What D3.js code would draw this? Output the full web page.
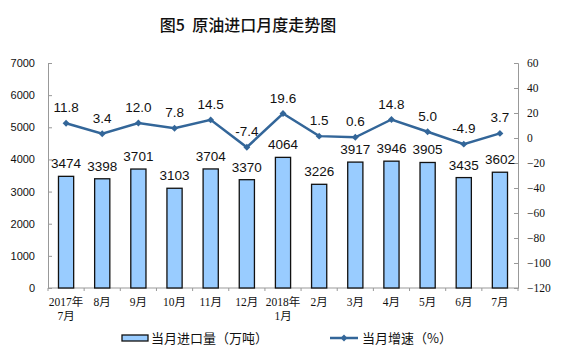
<!DOCTYPE html>
<html><head><meta charset="utf-8">
<script src="https://cdn.jsdelivr.net/npm/d3@7"></script>
<style>body{margin:0;background:#fff}</style>
</head><body>
<script>
const months = [["2017年","7月"],["8月"],["9月"],["10月"],["11月"],["12月"],["2018年","1月"],["2月"],["3月"],["4月"],["5月"],["6月"],["7月"]];
const imports = [3474,3398,3701,3103,3704,3370,4064,3226,3917,3946,3905,3435,3602];
const growth = [11.8,3.4,12.0,7.8,14.5,-7.4,19.6,1.5,0.6,14.8,5.0,-4.9,3.7];
const leftTicks = [0,1000,2000,3000,4000,5000,6000,7000];
const rightTicks = [-120,-100,-80,-60,-40,-20,0,20,40,60];
const title = "图5  原油进口月度走势图";
const legend1 = "当月进口量（万吨）", legend2 = "当月增速（%）";

const W=561,H=357, L=48, R=518, T=63, B=288;
const svg=d3.select("body").append("svg").attr("width",W).attr("height",H);
const x=d3.scaleBand().domain(d3.range(months.length)).range([L,R]).paddingInner(0.58).paddingOuter(0.29);
const band=d3.scaleBand().domain(d3.range(months.length)).range([L,R]);
const yL=d3.scaleLinear().domain([0,7000]).range([B,T]);
const yR=d3.scaleLinear().domain([-120,60]).range([B,T]);
const serif="'Liberation Serif','Noto Sans CJK SC',serif";
const sans="'Liberation Sans',Arial,'Noto Sans CJK SC',sans-serif";

svg.append("text").attr("x",248).attr("y",31).attr("text-anchor","middle").style("white-space","pre")
 .attr("font-family","'Noto Sans CJK SC',sans-serif").attr("font-size",16).attr("font-weight",500).attr("fill","#111").text(title);

// axes
const axL=svg.append("g").attr("transform",`translate(${L},0)`).call(d3.axisLeft(yL).tickValues(leftTicks).tickFormat(d3.format("d")).tickSize(-4).tickPadding(13));
const axR=svg.append("g").attr("transform",`translate(${R},0)`).call(d3.axisRight(yR).tickValues(rightTicks).tickFormat(d3.format("d")).tickSize(-4).tickPadding(12));
[axL,axR].forEach(a=>{a.selectAll("path,line").attr("stroke","#999");a.selectAll("text").attr("font-family",serif).attr("font-size",11.5).attr("fill","#111");});
axL.selectAll("text").attr("font-family",sans).attr("font-size",11);
axR.selectAll("text").attr("text-anchor","start").attr("x",9);

// bottom axis
svg.append("line").attr("x1",L).attr("x2",R).attr("y1",B).attr("y2",B).attr("stroke","#999");
svg.selectAll(".bt").data(d3.range(months.length+1)).join("line")
 .attr("x1",i=>L+i*band.bandwidth()).attr("x2",i=>L+i*band.bandwidth()).attr("y1",B).attr("y2",B+3).attr("stroke","#999");

// bars
svg.selectAll(".bar").data(imports).join("rect")
 .attr("x",(d,i)=>x(i)).attr("width",x.bandwidth()).attr("y",d=>yL(d)).attr("height",d=>B-yL(d))
 .attr("fill","#99CCFF").attr("stroke","#111").attr("stroke-width",1.3);
svg.selectAll(".bl").data(imports).join("text")
 .attr("x",(d,i)=>x(i)+x.bandwidth()/2).attr("y",d=>yL(d)-8).attr("text-anchor","middle")
 .attr("font-family",sans).attr("font-size",13.5).attr("fill","#111").text(d=>d);

// line
const cx=i=>band(i)+band.bandwidth()/2;
svg.append("path").datum(growth).attr("d",d3.line().x((d,i)=>cx(i)).y(d=>yR(d)))
 .attr("fill","none").attr("stroke","#336699").attr("stroke-width",2.5);
svg.selectAll(".pt").data(growth).join("path")
 .attr("d",d3.symbol(d3.symbolDiamond2,30)).attr("transform",(d,i)=>`translate(${cx(i)},${yR(d)})`).attr("fill","#336699");
svg.selectAll(".gl").data(growth).join("text")
 .attr("x",(d,i)=>cx(i)).attr("y",d=>yR(d)-11).attr("text-anchor","middle")
 .attr("font-family",sans).attr("font-size",13.5).attr("fill","#111").text(d=>d.toFixed(1));

// x labels
const xl=svg.selectAll(".xl").data(months).join("text").attr("text-anchor","middle")
 .attr("font-family",serif).attr("font-size",11.5).attr("fill","#111");
xl.each(function(d,i){const t=d3.select(this);d.forEach((s,k)=>t.append("tspan").attr("x",cx(i)).attr("y",306+k*14).text(s));});

// legend
svg.append("rect").attr("x",122).attr("y",335).attr("width",26).attr("height",6).attr("fill","#99CCFF").attr("stroke","#111").attr("stroke-width",1.3);
svg.append("text").attr("x",151).attr("y",343).attr("font-family","'Noto Sans CJK SC',sans-serif").attr("font-size",13).attr("fill","#111").text(legend1);
svg.append("line").attr("x1",330).attr("x2",358).attr("y1",338).attr("y2",338).attr("stroke","#336699").attr("stroke-width",2.5);
svg.append("path").attr("d",d3.symbol(d3.symbolDiamond2,30)).attr("transform","translate(344,338)").attr("fill","#336699");
svg.append("text").attr("x",362).attr("y",343).attr("font-family","'Noto Sans CJK SC',sans-serif").attr("font-size",13).attr("fill","#111").text(legend2);
</script>
</body></html>
